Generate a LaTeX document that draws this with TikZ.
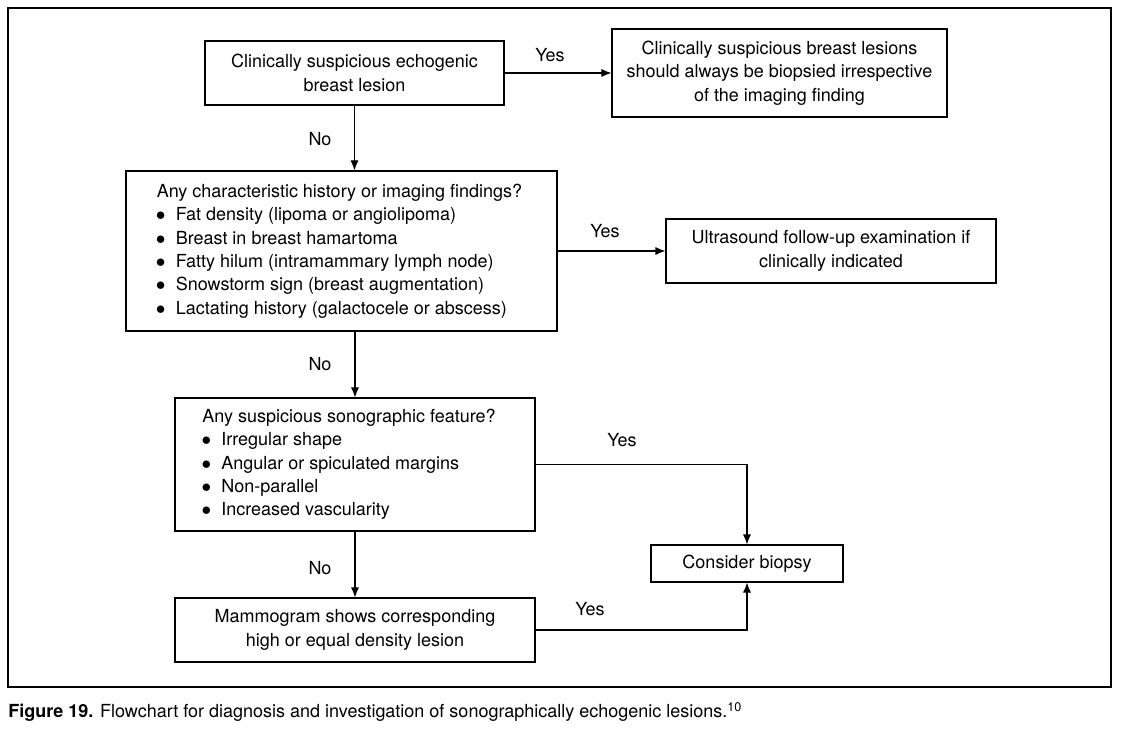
\documentclass[tikz,border=0pt]{standalone}
\usepackage{fontspec}
\setmainfont{TeX Gyre Heros}
\usetikzlibrary{arrows.meta}
\newcommand{\bitem}{\makebox[14.25pt][l]{\hspace{-0.6pt}$\bullet$}}
\begin{document}
\begin{tikzpicture}[x=0.75pt,y=-0.75pt,
  font=\fontsize{13.5}{17.5}\selectfont,
  box/.style={draw,line width=0.8pt,inner sep=0pt,align=center},
  lbox/.style={draw,line width=0.8pt,inner sep=0pt,align=left},
  lab/.style={inner sep=0pt},
  conn/.style={line width=0.8pt},
  arr/.style={conn,-{Latex[length=7.5pt,width=6pt]}}]
\useasboundingbox (0,0) rectangle (1124,730);
\node[draw,line width=0.8pt,minimum width={1103*0.75pt},minimum height={679*0.75pt},inner sep=0pt] (frame) at (559.5,347.5) {};
\node[box,minimum width={299*0.75pt},minimum height={64*0.75pt}] (b1) at (354.5,73) {Clinically suspicious echogenic\\breast lesion};
\node[box,minimum width={335*0.75pt},minimum height={88*0.75pt}] (b1r) at (779.5,73) {Clinically suspicious breast lesions\\should always be biopsied irrespective\\of the imaging finding};
\node[lbox,minimum width={431*0.75pt},minimum height={160*0.75pt}] (b2) at (341.5,251) {Any characteristic history or imaging findings?\hspace*{3pt}\\\bitem Fat density (lipoma or angiolipoma)\\\bitem Breast in breast hamartoma\\\bitem Fatty hilum (intramammary lymph node)\\\bitem Snowstorm sign (breast augmentation)\\\bitem Lactating history (galactocele or abscess)};
\node[box,minimum width={330*0.75pt},minimum height={64*0.75pt}] (b2r) at (831,251) {Ultrasound follow-up examination if\\clinically indicated};
\node[lbox,minimum width={360*0.75pt},minimum height={133*0.75pt}] (b3) at (355,464.5) {Any suspicious sonographic feature?\hspace*{9pt}\\\bitem Irregular shape\\\bitem Angular or spiculated margins\\\bitem Non-parallel\\\bitem Increased vascularity};
\node[box,minimum width={192*0.75pt},minimum height={37*0.75pt}] (b4) at (747,563.5) {Consider biopsy};
\node[box,minimum width={360*0.75pt},minimum height={64*0.75pt}] (b5) at (355,630) {Mammogram shows corresponding\\high or equal density lesion};
\draw[arr] (b1) -- (b1r);
\draw[arr] (b1.south) -- (b1.south |- b2.north);
\draw[arr] (b2) -- (b2r);
\draw[arr] (b3.north |- b2.south) -- (b3.north);
\draw[arr] (b3.east) -| (b4.north);
\draw[arr] (b3.south) -- (b5.north);
\draw[arr] (b5.east) -| (b4.south);
\node[lab] (y1) at (550,55) {Yes};
\node[lab] (y2) at (605,231) {Yes};
\node[lab] (y3) at (622,440) {Yes};
\node[lab] (y4) at (590,609) {Yes};
\node[lab] (n1) at (320,139) {No};
\node[lab] (n2) at (320,364) {No};
\node[lab] (n3) at (320,568) {No};
\node[lab,anchor=west] (cap) at (8,712) {\textbf{Figure 19.} Flowchart for diagnosis and investigation of sonographically echogenic lesions.\textsuperscript{10}};
\end{tikzpicture}
\end{document}
